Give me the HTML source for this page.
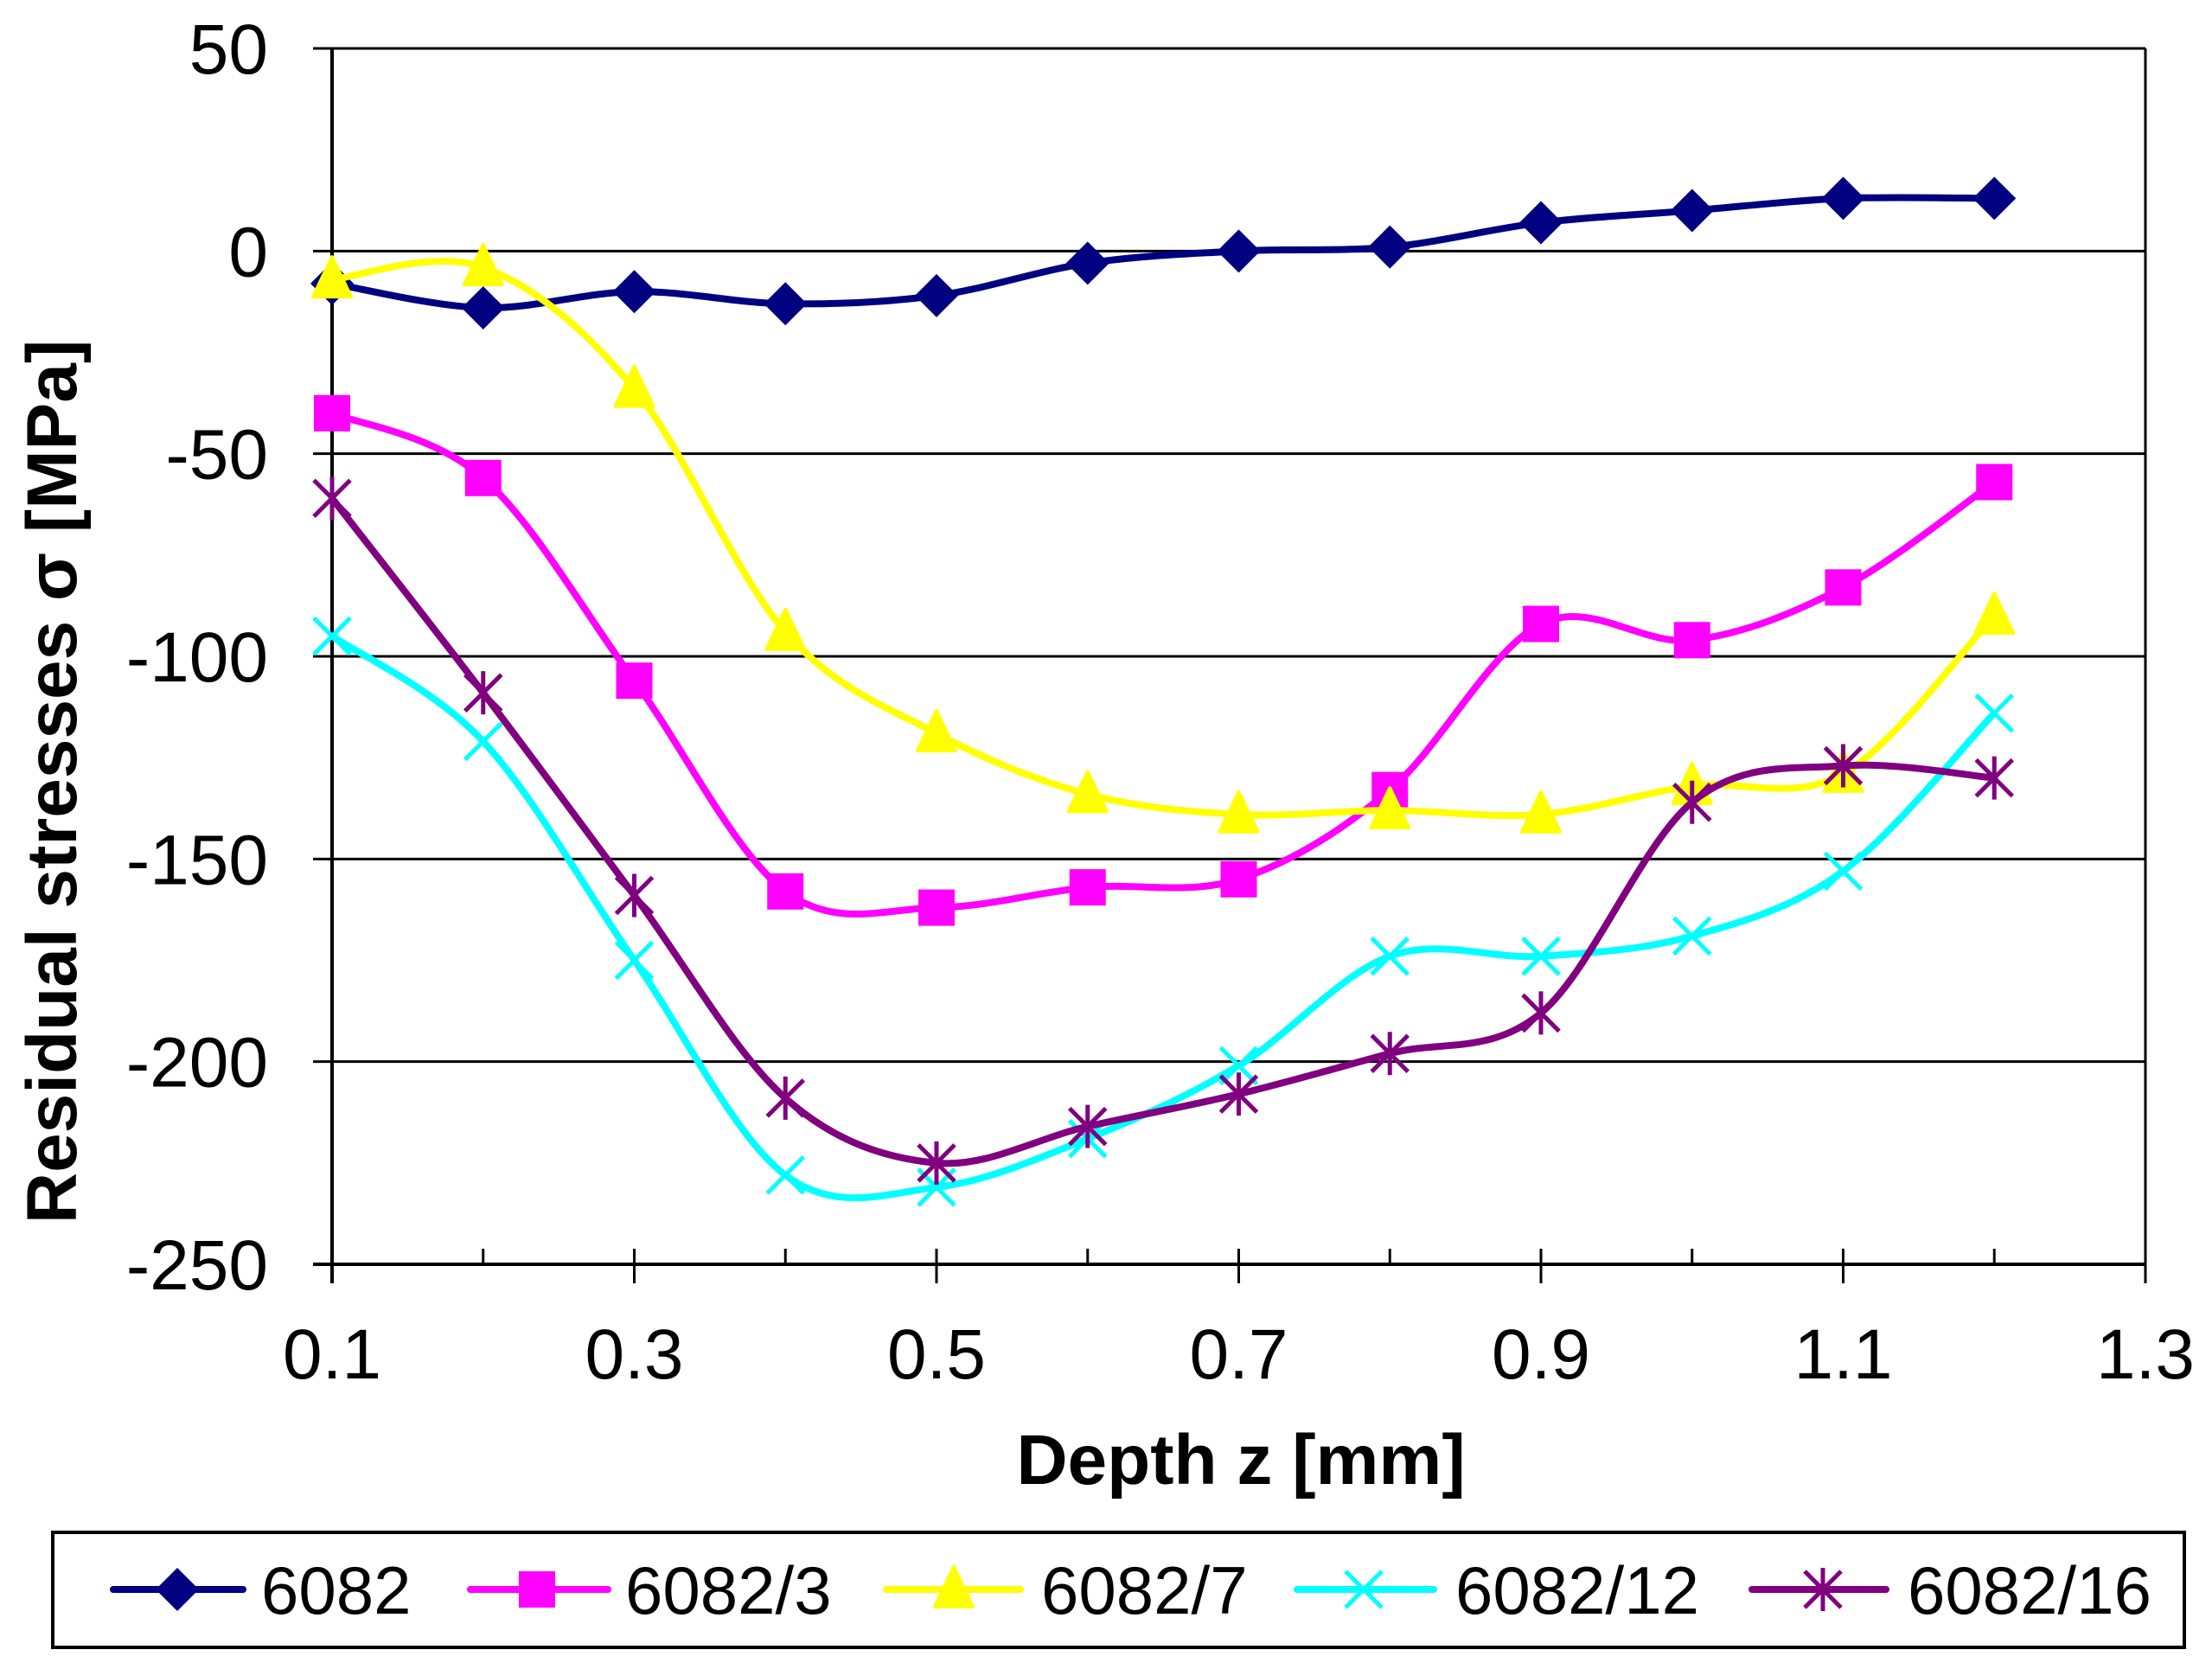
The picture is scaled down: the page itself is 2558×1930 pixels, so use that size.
<!DOCTYPE html>
<html><head><meta charset="utf-8"><style>
html,body{margin:0;padding:0;background:#fff}
svg text{font-family:"Liberation Sans",Arial,sans-serif}
</style></head><body>
<svg id="chart" xmlns="http://www.w3.org/2000/svg" width="2558" height="1925" viewBox="0 0 2558 1925">
<g id="grid"></g>
<g id="axes"></g>
<g id="series"></g>
<text x="0" y="0" transform="translate(88,904) rotate(-90)" text-anchor="middle" font-size="82" font-weight="bold">Residual stresses σ [MPa]</text>
<text x="1435" y="1716" text-anchor="middle" font-size="82" font-weight="bold">Depth z [mm]</text>
<rect x="61" y="1772" width="2465" height="133" fill="none" stroke="#000" stroke-width="4"/>
<g id="legend"></g>
</svg>
<script>
const depths=[0.1,0.2,0.3,0.4,0.5,0.6,0.7,0.8,0.9,1.0,1.1,1.2];
const s6082=[-8,-14,-10,-13,-11,-3,0,1,7,10,13,13];
const s6082_3=[-40,-56,-106,-158,-162,-157,-155,-133,-92,-96,-83,-57];
const s6082_7=[-7,-4,-34,-94,-119,-134,-139,-138,-139,-132,-129,-90];
const s6082_12=[-95,-121,-175,-228,-231,-219,-201,-174,-174,-169,-153,-114];
const s6082_16=[-61,-109,-159,-209,-225,-216,-208,-198,-188,-136,-127,-130];
const yTicks=[50,0,-50,-100,-150,-200,-250];
const xTickLabels=[0.1,0.3,0.5,0.7,0.9,1.1,1.3];
const seriesNames=["6082","6082/3","6082/7","6082/12","6082/16"];

const NS="http://www.w3.org/2000/svg";
const X0=384,X1=2481,Y0=56,Y1=1462;
const xs=v=>X0+(v-0.1)/(1.3-0.1)*(X1-X0);
const ys=v=>Y0+(50-v)/(300)*(Y1-Y0);
function mk(tag,attrs,parent){const e=document.createElementNS(NS,tag);for(const k in attrs)e.setAttribute(k,attrs[k]);parent.appendChild(e);return e;}
const grid=document.getElementById('grid'),axes=document.getElementById('axes'),ser=document.getElementById('series'),leg=document.getElementById('legend');

yTicks.forEach(v=>{
  const l=mk('line',{x1:X0-22,x2:X1,y1:ys(v),y2:ys(v),stroke:'#000','stroke-width':3},grid);
  
  
  const t=mk('text',{x:310,y:ys(v)+29,'text-anchor':'end','font-size':82},axes);
  t.textContent=v;
  
  
});
mk('line',{x1:X0,x2:X0,y1:Y0,y2:Y1+22,stroke:'#000','stroke-width':4},axes);
mk('line',{x1:X1,x2:X1,y1:Y0,y2:Y1+22,stroke:'#000','stroke-width':3},axes);
mk('line',{x1:X0-22,x2:X1,y1:Y1,y2:Y1,stroke:'#000','stroke-width':4},axes);
for(let i=0;i<=12;i++){
  const v=0.1+i*0.1;
  const major=i%2===0;
  mk('line',{x1:xs(v),x2:xs(v),y1:Y1-18,y2:major?Y1+22:Y1,stroke:'#000','stroke-width':3},axes);
}
xTickLabels.forEach(v=>{
  const t=mk('text',{x:xs(v),y:1594,'text-anchor':'middle','font-size':82},axes);
  t.textContent=v.toFixed(1);
  
  
});

const colors=['#000080','#ff00ff','#ffff00','#00ffff','#800080'];
const markers=['diamond','square','triangle','x','star'];
function marker(type,cx,cy,col,parent){
  const g=mk('g',{},parent);
  if(type==='diamond')mk('polygon',{points:`${cx},${cy-25} ${cx+25},${cy} ${cx},${cy+25} ${cx-25},${cy}`,fill:col},g);
  if(type==='square')mk('rect',{x:cx-21,y:cy-21,width:42,height:42,fill:col},g);
  if(type==='triangle')mk('polygon',{points:`${cx},${cy-26} ${cx+22},${cy+20} ${cx-22},${cy+20}`,fill:col,stroke:col,'stroke-width':4,'stroke-linejoin':'round'},g);
  if(type==='x'){mk('path',{d:`M${cx-21},${cy-21}L${cx+21},${cy+21}M${cx-21},${cy+21}L${cx+21},${cy-21}`,stroke:col,'stroke-width':5},g);}
  if(type==='star'){mk('path',{d:`M${cx-21},${cy-21}L${cx+21},${cy+21}M${cx-21},${cy+21}L${cx+21},${cy-21}M${cx},${cy-25}L${cx},${cy+25}`,stroke:col,'stroke-width':5},g);}
  return g;
}
function spline(pts){
  let d=`M${pts[0][0]},${pts[0][1]}`;
  for(let i=0;i<pts.length-1;i++){
    const p0=pts[Math.max(0,i-1)],p1=pts[i],p2=pts[i+1],p3=pts[Math.min(pts.length-1,i+2)];
    const c1=[p1[0]+(p2[0]-p0[0])/6,p1[1]+(p2[1]-p0[1])/6];
    const c2=[p2[0]-(p3[0]-p1[0])/6,p2[1]-(p3[1]-p1[1])/6];
    d+=`C${c1[0]},${c1[1]} ${c2[0]},${c2[1]} ${p2[0]},${p2[1]}`;
  }
  return d;
}
const allSeries=[s6082,s6082_3,s6082_7,s6082_12,s6082_16];
allSeries.forEach((vals,si)=>{
  const g=mk('g',{},ser);
  
  
  const pts=vals.map((v,i)=>[xs(depths[i]),ys(v)]);
  mk('path',{d:spline(pts),fill:'none',stroke:colors[si],'stroke-width':8,'stroke-linecap':'round'},g);
  pts.forEach(p=>{
    const m=marker(markers[si],p[0],p[1],colors[si],g);
    
    
  });
});
const legX=[[131,281,205,302],[544,703,621,723],[1025,1180,1103,1204],[1500,1658,1577,1683],[2026,2181,2108,2206]];
legX.forEach((p,i)=>{
  const g=mk('g',{},leg);
  
  
  mk('line',{x1:p[0],x2:p[1],y1:1838,y2:1838,stroke:colors[i],'stroke-width':8,'stroke-linecap':'round'},g);
  marker(markers[i],p[2],1838,colors[i],g);
  const t=mk('text',{x:p[3],y:1866,'font-size':78},g);
  t.textContent=seriesNames[i];
});
</script>
</body></html>
